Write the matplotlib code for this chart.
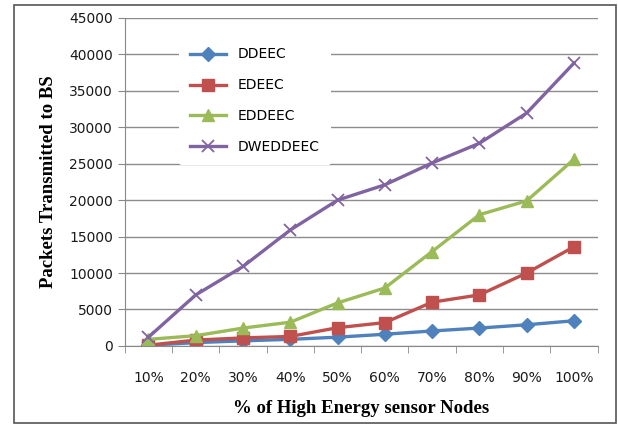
import matplotlib
matplotlib.use("Agg")
import matplotlib.pyplot as plt
from matplotlib.patches import Rectangle

# --- data ---------------------------------------------
categories = ["10%", "20%", "30%", "40%", "50%", "60%", "70%", "80%", "90%", "100%"]
ddeec    = [100, 450, 700, 900, 1200, 1600, 2050, 2450, 2900, 3450]
edeec    = [100, 800, 1100, 1300, 2500, 3200, 6000, 7000, 10000, 13600]
eddeec   = [900, 1400, 2450, 3250, 5900, 7950, 12950, 18000, 19900, 25600]
dweddeec = [1200, 7000, 10900, 15900, 20000, 22100, 25100, 27800, 31950, 38800]

series = [
    ("DDEEC", ddeec, "#4F81BD", "D", 7),
    ("EDEEC", edeec, "#C0504D", "s", 9),
    ("EDDEEC", eddeec, "#9BBB59", "^", 9),
    ("DWEDDEEC", dweddeec, "#8064A2", "x", 9),
]

fig = plt.figure(figsize=(6.18, 4.26), dpi=100)
fig.patches.append(Rectangle((0.022, 0.006), 0.974, 0.983, transform=fig.transFigure,
                             fill=False, edgecolor="#555555", linewidth=1.2))
ax = fig.add_axes([0.202, 0.188, 0.765, 0.77])

x = list(range(len(categories)))
for name, vals, col, mk, ms in series:
    ax.plot(x, vals, color=col, linewidth=2.4, marker=mk, markersize=ms,
            markeredgecolor=col, markeredgewidth=1.3 if mk == "x" else 1, label=name)

ax.set_xlim(-0.5, len(categories) - 0.5)
ax.set_ylim(0, 45000)
ax.set_yticks(range(0, 45001, 5000))
ax.set_xticks(x)
ax.set_xticklabels(categories)
ax.set_xticks([i - 0.5 for i in range(len(categories) + 1)], minor=True)
ax.tick_params(axis="x", which="major", length=0, pad=18, labelsize=10, colors="#1a1a1a")
ax.tick_params(axis="x", which="minor", length=5, color="#888888")
ax.tick_params(axis="y", length=5, color="#888888", labelsize=10, colors="#1a1a1a")
ax.grid(axis="y", color="#8c8c8c", linewidth=1)
ax.set_axisbelow(True)
for s in ["top", "right"]:
    ax.spines[s].set_visible(False)
ax.spines["left"].set_color("#888888")
ax.spines["bottom"].set_color("#888888")

ax.set_xlabel("% of High Energy sensor Nodes", family="Liberation Serif",
              fontweight="bold", fontsize=13.5, labelpad=11)
ax.set_ylabel("Packets Transmitted to BS", family="Liberation Serif",
              fontweight="bold", fontsize=13.5, labelpad=9)

leg = ax.legend(loc="upper left", bbox_to_anchor=(0.1, 0.965), frameon=True,
                fontsize=10, labelspacing=1.22, handlelength=2.6, borderpad=0.8)
leg.get_frame().set_edgecolor("none")
leg.get_frame().set_facecolor("white")
leg.get_frame().set_alpha(1)

fig.savefig("out.png", dpi=100)
